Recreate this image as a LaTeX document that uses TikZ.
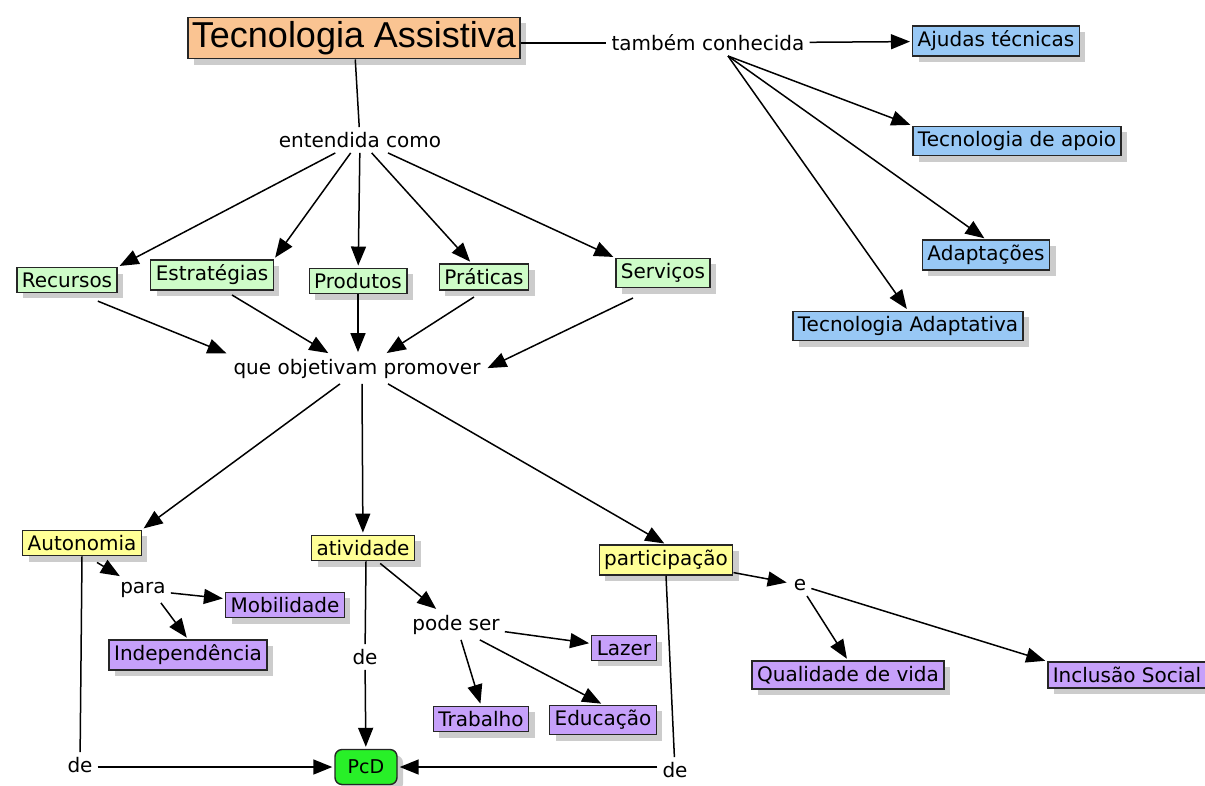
\documentclass[tikz,border=0pt]{standalone}
\usepackage{fontspec}
\setmainfont{DejaVu Sans}
\newfontfamily\titlefont{Liberation Sans}
\usetikzlibrary{arrows, arrows.meta}
\usetikzlibrary{shadows}
\definecolor{taorange}{RGB}{250,196,146}
\definecolor{tablue}{RGB}{152,200,245}
\definecolor{tagreen}{RGB}{206,252,200}
\definecolor{tayellow}{RGB}{255,255,150}
\definecolor{tapurple}{RGB}{198,160,250}
\definecolor{tapcd}{RGB}{40,240,40}

\begin{document}
\begin{tikzpicture}[x=1pt, y=-1pt,
    font=\fontsize{20}{24}\selectfont,
    box/.style={draw=black!85, line width=1.4pt, inner xsep=5pt, inner ysep=5pt,
      drop shadow={shadow xshift=6pt, shadow yshift=-6pt, fill=black!20, opacity=1}},
    lbl/.style={inner sep=5pt},
    link/.style={line width=1.5pt},
    arr/.style={line width=1.5pt, -{Triangle[length=19pt, width=15pt]}, shorten >=2pt}]
    \useasboundingbox (0,0) rectangle (1205,785);

    \node[box, fill=taorange, font=\titlefont\fontsize{36}{40}\selectfont, inner sep=4pt] (ta) at (354,38) {Tecnologia Assistiva};
    \node[lbl] (conh) at (708,43) {também conhecida};
    \node[box, fill=tablue] (ajud) at (996,41) {Ajudas técnicas};
    \node[box, fill=tablue] (apoio) at (1017,141) {Tecnologia de apoio};
    \node[box, fill=tablue] (adapt) at (986,255) {Adaptações};
    \node[box, fill=tablue] (tadapt) at (908,326) {Tecnologia Adaptativa};
    \coordinate (c1) at (728,56);

    \node[lbl] (ent) at (360,140) {entendida como};
    \node[box, fill=tagreen] (rec) at (67,280) {Recursos};
    \node[box, fill=tagreen] (estr) at (212,275) {Estratégias};
    \node[box, fill=tagreen] (prod) at (358,281) {Produtos};
    \node[box, fill=tagreen] (prat) at (484,277) {Práticas};
    \node[box, fill=tagreen] (serv) at (663,273) {Serviços};
    \node[lbl] (obj) at (357,369) {que objetivam promover};

    \node[box, fill=tayellow] (auto) at (82,543) {Autonomia};
    \node[box, fill=tayellow] (ativ) at (363,548) {atividade};
    \node[box, fill=tayellow] (part) at (666,560) {participação};

    \node[lbl] (para) at (143,590) {para};
    \node[box, fill=tapurple] (mob) at (285,605) {Mobilidade};
    \node[box, fill=tapurple] (indep) at (188,655) {Independência};
    \node[lbl] (deb) at (365,657) {de};
    \node[lbl] (pode) at (456,625) {pode ser};
    \node[box, fill=tapurple] (lazer) at (624,648) {Lazer};
    \node[box, fill=tapurple] (trab) at (481,719) {Trabalho};
    \node[box, fill=tapurple] (educ) at (603,720) {Educação};
    \node[lbl] (e) at (800,585) {e};
    \node[box, fill=tapurple] (qual) at (848,675) {Qualidade de vida};
    \node[box, fill=tapurple] (incl) at (1127,675) {Inclusão Social};

    \node[lbl] (dea) at (80,765) {de};
    \node[box, fill=tapcd, rounded corners=7pt, font=\fontsize{19}{22}\selectfont, minimum width=62pt, minimum height=35pt, inner sep=3pt] (pcd) at (366,767) {PcD};
    \node[lbl] (dec) at (675,770) {de};

    % tambem conhecida
    \draw[link] (ta.east |- conh) -- (conh);
    \draw[arr] (conh) -- (ajud);
    \draw[arr] (c1) -- (apoio.north west);
    \draw[arr] (c1) -- (adapt.north);
    \draw[arr] (c1) -- (tadapt.north);

    % entendida como
    \draw[link] (ta) -- (ent);
    \draw[arr] (ent) -- (rec.north east);
    \draw[arr] (ent) -- (estr.north east);
    \draw[arr] (ent) -- (prod);
    \draw[arr] (ent) -- (prat);
    \draw[arr] (ent) -- (serv.north west);

    \draw[arr] (rec.south east) ++(-20,8) -- (obj.north west);
    \draw[arr] (estr) ++(20,20) -- (obj.north -| 330,0);
    \draw[arr] (prod) -- (prod |- obj.north);
    \draw[arr] (prat) ++(-10,20) -- (obj.north -| 385,0);
    \draw[arr] (serv) ++(-30,25) -- (obj.east);

    % que objetivam promover
    \draw[arr] (obj.south -| 340,0) -- (auto.north east);
    \draw[arr] (obj.south -| 362,0) -- (ativ);
    \draw[arr] (obj.south -| 388,0) -- (part.north);

    % autonomia
    \draw[arr] (auto.south east) ++(-45,6) -- (para);
    \draw[arr] (para) -- (mob);
    \draw[arr] (para.south east) ++(-10,0) -- (indep.north);
    \draw[link] (auto.south) -- (dea);
    \draw[arr] (dea.east |- pcd) -- (pcd);

    % atividade
    \draw[link] (ativ.south -| 366,0) -- (deb);
    \draw[arr] (deb) -- (pcd);
    \draw[arr] (ativ.south east) ++(-35,2) -- (pode);
    \draw[arr] (pode) -- (lazer);
    \draw[arr] (pode.south) ++(5,0) -- (trab.north);
    \draw[arr] (pode.south east) ++(-25,0) -- (educ.north);

    % participacao
    \draw[arr] (part) -- (e);
    \draw[arr] (e) -- (qual.north);
    \draw[arr] (e) -- (incl.north west);
    \draw[link] (part.south) -- (dec);
    \draw[arr] (dec.west |- pcd) -- (pcd);
\end{tikzpicture}
\end{document}
